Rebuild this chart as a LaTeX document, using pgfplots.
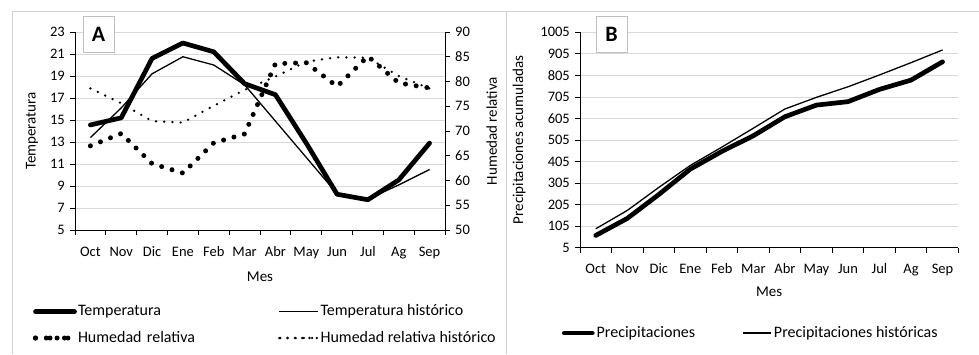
\documentclass[border=0pt]{standalone}
\usepackage{pgfplots}
\pgfplotsset{compat=1.18}
\usepackage{fontspec}
\setmainfont{Carlito}

\pgfplotstableread{
x temp temph hum humh
0 14.55 13.4 67.0 78.6
1 15.2 16.1 69.5 75.6
2 20.6 19.2 63.4 72.0
3 22.0 20.75 61.5 71.7
4 21.2 20.0 67.6 75.1
5 18.3 18.2 69.4 78.3
6 17.3 14.9 83.6 81.0
7 12.9 11.6 83.8 84.0
8 8.25 8.3 79.0 84.9
9 7.75 7.8 85.1 84.8
10 9.55 9.1 79.7 81.1
11 12.9 10.5 78.7 78.6
}\dataA

\pgfplotstableread{
x pre preh
0 62 93
1 141 178
2 252 285
3 370 387
4 452 472
5 525 560
6 613 649
7 667 703
8 683 752
9 740 807
10 783 864
11 868 923
}\dataB

\tikzset{
  thickline/.style={black, line width=4.7pt, line join=round, line cap=round},
  thinline/.style={black, line width=1.3pt, line join=round},
  bigdots/.style={black, line width=5pt, line cap=round, dash pattern=on 0pt off 10.8pt},
  smalldots/.style={black, line width=2.6pt, line cap=round, dash pattern=on 0pt off 8.2pt},
  lab/.style={font=\fontsize{15}{18}\selectfont},
}

\pgfplotsset{
  base/.style={
    scale only axis,
    xmin=-0.5, xmax=11.5,
    xtick={-0.5,0.5,...,11.5},
    x tick label as interval,
    xticklabels={Oct,Nov,Dic,Ene,Feb,Mar,Abr,May,Jun,Jul,Ag,Sep},
    tick align=outside,
    major tick length=5pt,
    every tick/.style={black, line width=0.7pt},
    axis line style={black, line width=0.7pt},
    ticklabel style={font=\fontsize{14.5}{16}\selectfont, inner sep=0pt},
    xticklabel style={anchor=north, text height=10pt, text depth=3pt, yshift=-11pt},
    yticklabel shift=5pt,
    /pgf/number format/assume math mode=true,
    /pgf/number format/1000 sep={},
    scaled y ticks=false,
    major grid style={draw=black!15, line width=0.8pt},
    clip=false,
  },
}

\begin{document}
\begin{tikzpicture}
\path[use as bounding box] (0pt,0pt) rectangle (979pt,354pt);
\draw[black!18, line width=0.8pt] (12pt,0pt) -- (12pt,343pt) -- (979pt,343pt);
\draw[black!18, line width=0.8pt] (506pt,0pt) -- (506pt,343pt);

% ---------- Panel A, left axis
\begin{axis}[base, at={(75pt,124pt)}, anchor=south west, width=370pt, height=198pt,
  axis x line*=bottom, axis y line*=left,
  ymin=5, ymax=23, ytick={5,7,...,23}, ymajorgrids,
  every axis y label/.style={at={(axis description cs:-0.1162,0.5)}, anchor=center, rotate=90, lab},
  ylabel={Temperatura},
  every axis x label/.style={at={(axis description cs:0.5,-0.2359)}, anchor=center, lab},
  xlabel={Mes}]
\addplot[thickline] table[x=x, y=temp] {\dataA};
\addplot[thinline] table[x=x, y=temph] {\dataA};
\end{axis}

% ---------- Panel A, right axis
\begin{axis}[base, at={(75pt,124pt)}, anchor=south west, width=370pt, height=198pt,
  axis x line=none, axis y line*=right,
  ymin=50, ymax=90, ytick={50,55,...,90},
  every axis y label/.style={at={(axis description cs:1.1262,0.5)}, anchor=center, rotate=90, lab},
  ylabel={Humedad relativa},
  legend columns=2, legend cell align=left,
  legend image code/.code={\path (0pt,0pt) -- (39pt,0pt); \draw[#1] (1.5pt,0pt) -- (37.5pt,0pt);},
  legend style={at={(-0.1135,-0.3773)}, anchor=north west, draw=none, fill=none,
    inner sep=0pt, outer sep=0pt, row sep=12.3pt, font=\fontsize{16}{19}\selectfont,
    nodes={inner sep=0pt, text height=11pt, text depth=3pt, align=left},
    /tikz/every odd column/.style={column sep=1pt},
    /tikz/every even column/.style={column sep=2pt}}]
\addlegendimage{thickline}\addlegendentry[text width=198pt]{Temperatura}
\addlegendimage{thinline}\addlegendentry{Temperatura histórico}
\addplot[bigdots, legend image code/.code={\path (0pt,0pt) -- (39pt,0pt); \draw[black, line width=5pt, line cap=round, dash pattern=on 0pt off 14.5pt] (0pt,0pt) -- (30pt,0pt);}] table[x=x, y=hum] {\dataA};
\addlegendentry[text width=198pt]{Humedad relativa}
\addplot[smalldots, legend image code/.code={\path (0pt,0pt) -- (39pt,0pt); \draw[black, line width=2.6pt, line cap=round, dash pattern=on 0pt off 7.3pt] (1pt,0pt) -- (38pt,0pt);}] table[x=x, y=humh] {\dataA};
\addlegendentry{Humedad relativa histórico}
\end{axis}

% ---------- Panel B
\begin{axis}[base, at={(580pt,106.3pt)}, anchor=south west, width=378.3pt, height=215.4pt,
  axis x line*=bottom, axis y line*=left,
  ymin=5, ymax=1005, ytick={5,105,...,1005}, ymajorgrids,
  every axis y label/.style={at={(axis description cs:-0.1612,0.5)}, anchor=center, rotate=90, lab},
  ylabel={Precipitaciones acumuladas},
  every axis x label/.style={at={(axis description cs:0.5,-0.2057)}, anchor=center, lab},
  xlabel={Mes},
  legend columns=2, legend cell align=left,
  legend image code/.code={\path (0pt,0pt) -- (28pt,0pt); \draw[#1] (1.5pt,0pt) -- (27pt,0pt);},
  legend style={at={(-0.0476,-0.3635)}, anchor=north west, draw=none, fill=none,
    inner sep=0pt, outer sep=0pt, font=\fontsize{16}{19}\selectfont,
    nodes={inner sep=0pt, text height=11pt, text depth=3pt, align=left},
    /tikz/every odd column/.style={column sep=2pt},
    /tikz/every even column/.style={column sep=2pt}}]
\addplot[thickline] table[x=x, y=pre] {\dataB};
\addlegendentry[text width=144pt]{Precipitaciones}
\addplot[thinline] table[x=x, y=preh] {\dataB};
\addlegendentry{Precipitaciones históricas}
\end{axis}

\draw[black!25, fill=white, line width=0.8pt] (83pt,302pt) rectangle (114pt,338pt);
\node[font=\fontsize{22}{24}\selectfont\bfseries] at (98.5pt,320pt) {A};
\draw[black!25, fill=white, line width=0.8pt] (596pt,302pt) rectangle (627pt,338pt);
\node[font=\fontsize{22}{24}\selectfont\bfseries] at (611.5pt,320pt) {B};
\end{tikzpicture}
\end{document}
